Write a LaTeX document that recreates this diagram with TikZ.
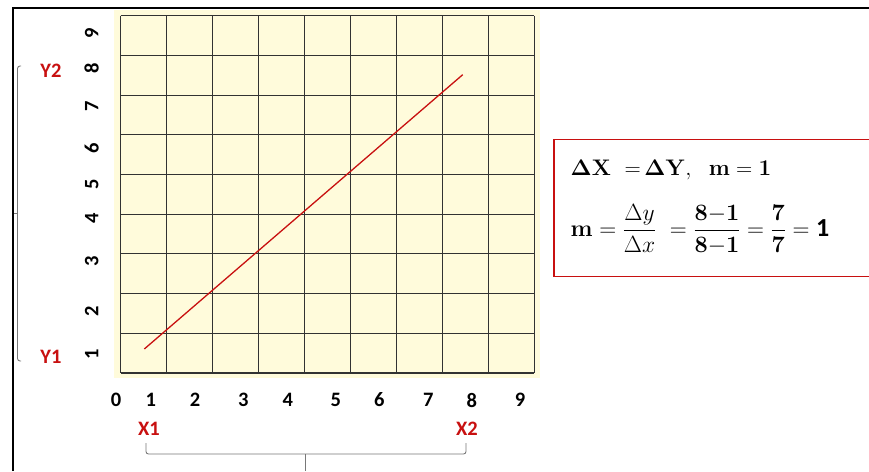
\documentclass[tikz,border=0pt]{standalone}
\usepackage{fix-cm}
\usepackage{amsmath}
\usepackage[no-math]{fontspec}
\setsansfont{Carlito}
\definecolor{gridbg}{RGB}{255,251,219}
\definecolor{myred}{RGB}{200,16,16}
\definecolor{bracegray}{RGB}{120,120,120}
\definecolor{gridcol}{RGB}{50,50,50}
\begin{document}
\begin{tikzpicture}[x=1pt,y=-1pt,
  lbl/.style={font=\sffamily\bfseries\fontsize{20.5}{22}\selectfont, inner sep=0pt},
  redlbl/.style={lbl, text=myred},
  gridline/.style={gridcol, line width=1.1pt},
  bracestyle/.style={bracegray, line width=0.9pt, rounded corners=2.5pt}]
\useasboundingbox (0,0) rectangle (869,471);
\fill[white] (0,0) rectangle (869,471);
% outer frame
\draw[line width=2pt] (13,471) -- (13,8) -- (869,8);
% grid
\fill[gridbg] (114,10) rectangle (540,378);
\foreach \i in {0,...,9} {
  \draw[gridline] ({120.7+\i*45.93},15.7) -- ({120.7+\i*45.93},373);
  \draw[gridline] (120.7,{15.7+\i*39.7}) -- (534,{15.7+\i*39.7});
}
% line
\coordinate (L1) at (144.3,349);
\coordinate (L2) at (462.7,74.7);
\draw[myred, line width=1.3pt] (L1) -- (L2);
% x labels
\foreach \n/\x in {0/116,1/150.7,2/195,3/243.3,4/287.7,5/335.7,6/379.3,7/428.3,8/471.7,9/520}
  \node[lbl] (x\n) at (\x,400) {\n};
% y labels
\foreach \n/\y in {1/354.3,2/311,3/261.7,4/218,5/184,6/148,7/106.7,8/68.3,9/33.3}
  \node[lbl, rotate=90] (y\n) at (91.7,\y) {\n};
% red labels
\node[redlbl] (Y2) at (51,71) {Y2};
\node[redlbl] (Y1) at (51,357) {Y1};
\node[redlbl] (X1) at (149,429) {X1};
\node[redlbl] (X2) at (467,429) {X2};
% braces
\draw[bracestyle] (21,66) -- (17.5,66) -- (17.5,361) -- (21,361);
\draw[bracegray, line width=0.9pt] (17.5,213) -- (14,213);
\draw[bracestyle] (146,443) -- (146,454) -- (466,454) -- (466,443);
\draw[bracegray, line width=0.9pt] (305,454) -- (305,471);
% formula box
\draw[myred, line width=1.3pt] (870,139.3) -- (554,139.3) -- (554,276.7) -- (870,276.7);
\node[anchor=base west, inner sep=0pt, font=\fontsize{22.5}{26}\selectfont] (eq1) at (570.5,175)
  {$\mathbf{\Delta X\ \ {=}\,\Delta Y,\ \ m = 1}$};
\node[anchor=base west, inner sep=0pt, font=\fontsize{23.5}{26}\selectfont] (eq2) at (570.5,236)
  {$\mathbf{m} = \dfrac{\Delta y}{\Delta x}\ = \dfrac{\mathbf{8}{-}\mathbf{1}}{\mathbf{8}{-}\mathbf{1}} = \dfrac{\mathbf{7}}{\mathbf{7}} = \textsf{\textbf{\fontsize{26}{28}\selectfont 1}}$};
\end{tikzpicture}
\end{document}
